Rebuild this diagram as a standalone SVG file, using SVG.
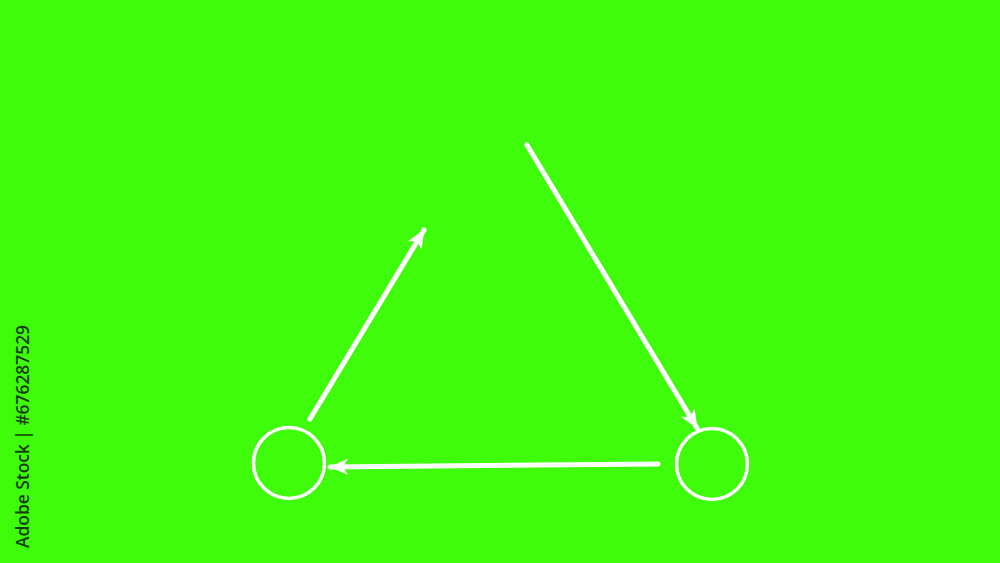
<svg xmlns="http://www.w3.org/2000/svg" width="1000" height="563" viewBox="0 0 1000 563">
<style>
.node{fill:none;stroke:#ffffff;stroke-width:3.5}
.edge{fill:none;stroke:#ffffff;stroke-width:5;stroke-linecap:round}
.credit{font-family:"Open Sans","Liberation Sans",sans-serif;font-size:17.5px;font-weight:600;fill:#163f0c}
</style>
<defs>
<marker id="arrow" markerUnits="userSpaceOnUse" markerWidth="22" markerHeight="22" viewBox="0 0 22 22" refX="18" refY="11" orient="auto">
<path d="M0,3 L19,11 L0,19 L5,11 Z" fill="#ffffff"/>
</marker>
</defs>
<rect width="1000" height="563" fill="#3ffc0a"/>
<g id="node-left"><circle class="node" cx="289" cy="463" r="35.5"/></g>
<g id="node-right"><circle class="node" cx="712" cy="464" r="35.5"/></g>
<g id="connectors">
<line class="edge" x1="310" y1="419" x2="424" y2="230" marker-end="url(#arrow)"/>
<line class="edge" x1="527" y1="145" x2="697" y2="428" marker-end="url(#arrow)"/>
<line class="edge" x1="658" y1="464" x2="330" y2="467" marker-end="url(#arrow)"/>
</g>
<text class="credit" transform="translate(29,548) rotate(-90)" textLength="223" lengthAdjust="spacingAndGlyphs">Adobe Stock | #676287529</text>
</svg>
